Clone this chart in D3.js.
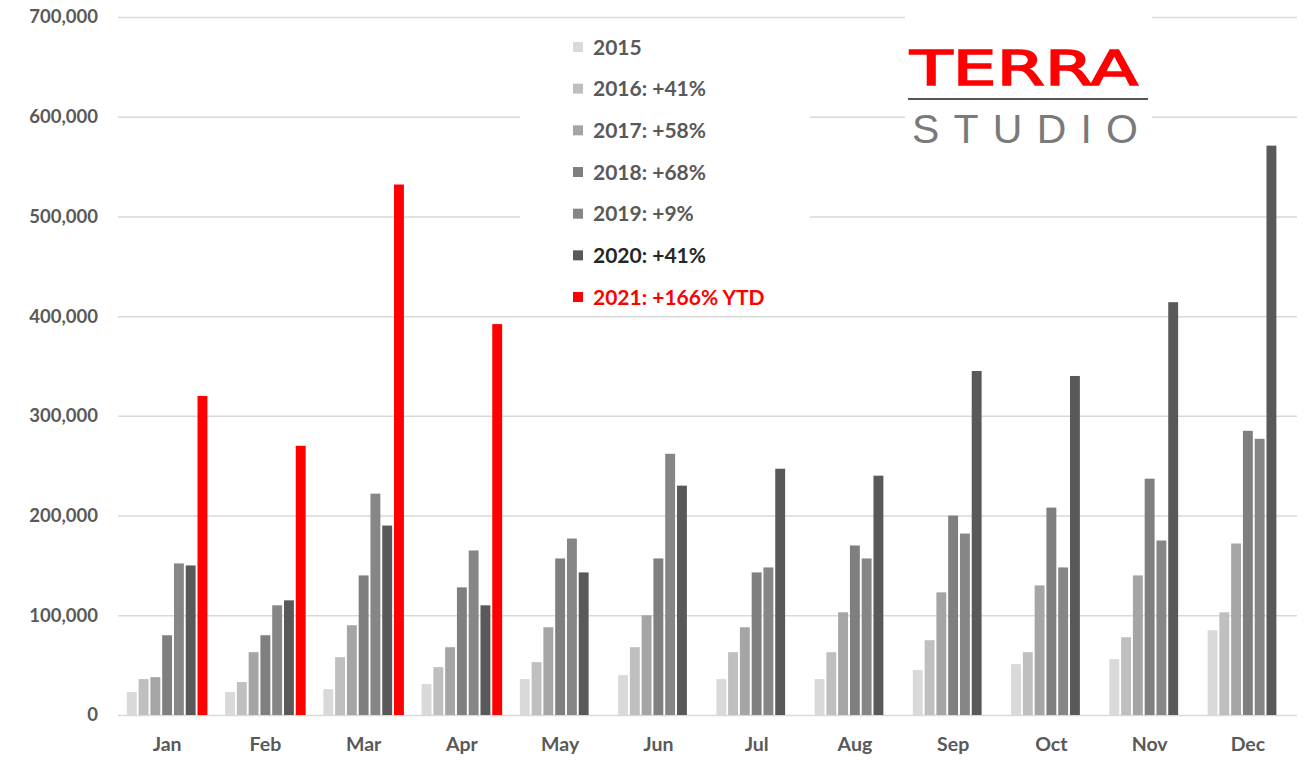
<!DOCTYPE html>
<html>
<head>
<meta charset="utf-8">
<script src="https://cdn.jsdelivr.net/npm/d3@7"></script>
<style>
    body { margin: 0; background: #fff; }
    svg { display: block; }
    text { font-family: Lato, "Open Sans", sans-serif; }
</style>
</head>
<body>
<div id="chart"></div>
<script>
const months = ['Jan', 'Feb', 'Mar', 'Apr', 'May', 'Jun', 'Jul', 'Aug', 'Sep', 'Oct', 'Nov', 'Dec'];
const years = ['2015', '2016', '2017', '2018', '2019', '2020', '2021'];
const legendLabels = ['2015', '2016: +41%', '2017: +58%', '2018: +68%', '2019: +9%', '2020: +41%', '2021: +166% YTD'];
const yTicks = [0, 100000, 200000, 300000, 400000, 500000, 600000, 700000];

// monthly values
const v2015 = [23000, 23000, 26000, 31000, 36000, 40000, 36000, 36000, 45000, 51000, 56000, 85000];
const v2016 = [36000, 33000, 58000, 48000, 53000, 68000, 63000, 63000, 75000, 63000, 78000, 103000];
const v2017 = [38000, 63000, 90000, 68000, 88000, 100000, 88000, 103000, 123000, 130000, 140000, 172000];
const v2018 = [80000, 80000, 140000, 128000, 157000, 157000, 143000, 170000, 200000, 208000, 237000, 285000];
const v2019 = [152000, 110000, 222000, 165000, 177000, 262000, 148000, 157000, 182000, 148000, 175000, 277000];
const v2020 = [150000, 115000, 190000, 110000, 143000, 230000, 247000, 240000, 345000, 340000, 414000, 571000];
const v2021 = [320000, 270000, 532000, 392000, null, null, null, null, null, null, null, null];

const colors = ['#d9d9d9', '#bfbfbf', '#a5a5a5', '#7f7f7f', '#868686', '#595959', '#ff0000'];
const legendTextColors = ['#595959', '#595959', '#595959', '#595959', '#595959', '#262626', '#ff0000'];

const seriesValues = [v2015, v2016, v2017, v2018, v2019, v2020, v2021];

const width = 1309, height = 760;

const svg = d3.select('#chart')
    .append('svg')
    .attr('width', width)
    .attr('height', height);

const x0 = d3.scaleBand()
    .domain(months)
    .range([118, 1297])
    .paddingInner(0.18)
    .paddingOuter(0.09);

const x1 = d3.scaleBand()
    .domain(years)
    .range([0, x0.bandwidth()])
    .paddingInner(0.16);

const y = d3.scaleLinear()
    .domain([0, 700000])
    .range([715, 17]);

// gridlines + y labels
const yAxis = d3.axisLeft(y)
    .tickValues(yTicks)
    .tickFormat(d3.format(','))
    .tickSize(-(1297 - 118))
    .tickPadding(20);

svg.append('g')
    .attr('transform', 'translate(118,0)')
    .call(yAxis)
    .call(g => g.select('.domain').remove())
    .call(g => g.selectAll('.tick line').attr('stroke', '#d9d9d9').attr('stroke-width', 1.5))
    .call(g => g.selectAll('.tick text')
        .attr('fill', '#595959')
        .style('font-size', '18.5px')
        .style('font-weight', 'bold'));

// white boxes behind legend and logo (they hide the gridlines)
svg.append('rect').attr('x', 520).attr('y', 25).attr('width', 290).attr('height', 285).attr('fill', '#fff');
svg.append('rect').attr('x', 905).attr('y', 0).attr('width', 247).attr('height', 165).attr('fill', '#fff');

// bars
const groups = svg.selectAll('.month')
    .data(months)
    .enter()
    .append('g')
    .attr('class', 'month')
    .attr('transform', d => `translate(${x0(d)},0)`);

groups.selectAll('rect')
    .data((m, mi) => years.map((yr, i) => ({ year: yr, i: i, value: seriesValues[i][mi] }))
        .filter(d => d.value != null))
    .enter()
    .append('rect')
    .attr('x', d => x1(d.year))
    .attr('width', x1.bandwidth())
    .attr('y', d => y(d.value))
    .attr('height', d => y(0) - y(d.value))
    .attr('fill', d => colors[d.i]);

// month labels
const xAxis = d3.axisBottom(x0).tickSize(0).tickPadding(22);
svg.append('g')
    .attr('transform', 'translate(0,715)')
    .call(xAxis)
    .call(g => g.select('.domain').remove())
    .call(g => g.selectAll('.tick text')
        .attr('fill', '#595959')
        .style('font-size', '19.5px')
        .style('font-weight', 'bold'));

// legend
const legend = svg.selectAll('.legend')
    .data(legendLabels)
    .enter()
    .append('g')
    .attr('class', 'legend')
    .attr('transform', (d, i) => `translate(573,${47 + i * 41.67})`);

legend.append('rect')
    .attr('x', 0)
    .attr('y', -5)
    .attr('width', 10)
    .attr('height', 10)
    .attr('fill', (d, i) => colors[i]);

legend.append('text')
    .attr('x', 20)
    .attr('dy', '0.36em')
    .attr('fill', (d, i) => legendTextColors[i])
    .style('font-size', '21px')
    .style('font-weight', 'bold')
    .text(d => d);

// logo
const logo = svg.append('g');
logo.append('text')
    .attr('x', 910)
    .attr('y', 85)
    .attr('textLength', 228)
    .attr('lengthAdjust', 'spacingAndGlyphs')
    .attr('fill', '#ff0000')
    .attr('stroke', '#ff0000')
    .attr('stroke-width', 1.5)
    .style('font-family', '"DejaVu Sans", sans-serif')
    .style('font-size', '48px')
    .text('TERRA');
logo.append('line')
    .attr('x1', 908).attr('x2', 1148)
    .attr('y1', 99).attr('y2', 99)
    .attr('stroke', '#555')
    .attr('stroke-width', 2);
logo.append('text')
    .attr('x', 912)
    .attr('y', 143)
    .attr('textLength', 226)
    .attr('lengthAdjust', 'spacing')
    .attr('fill', '#7a7a7a')
    .style('font-family', '"Liberation Sans", sans-serif')
    .style('font-size', '41px')
    .text('STUDIO');
</script>
</body>
</html>
